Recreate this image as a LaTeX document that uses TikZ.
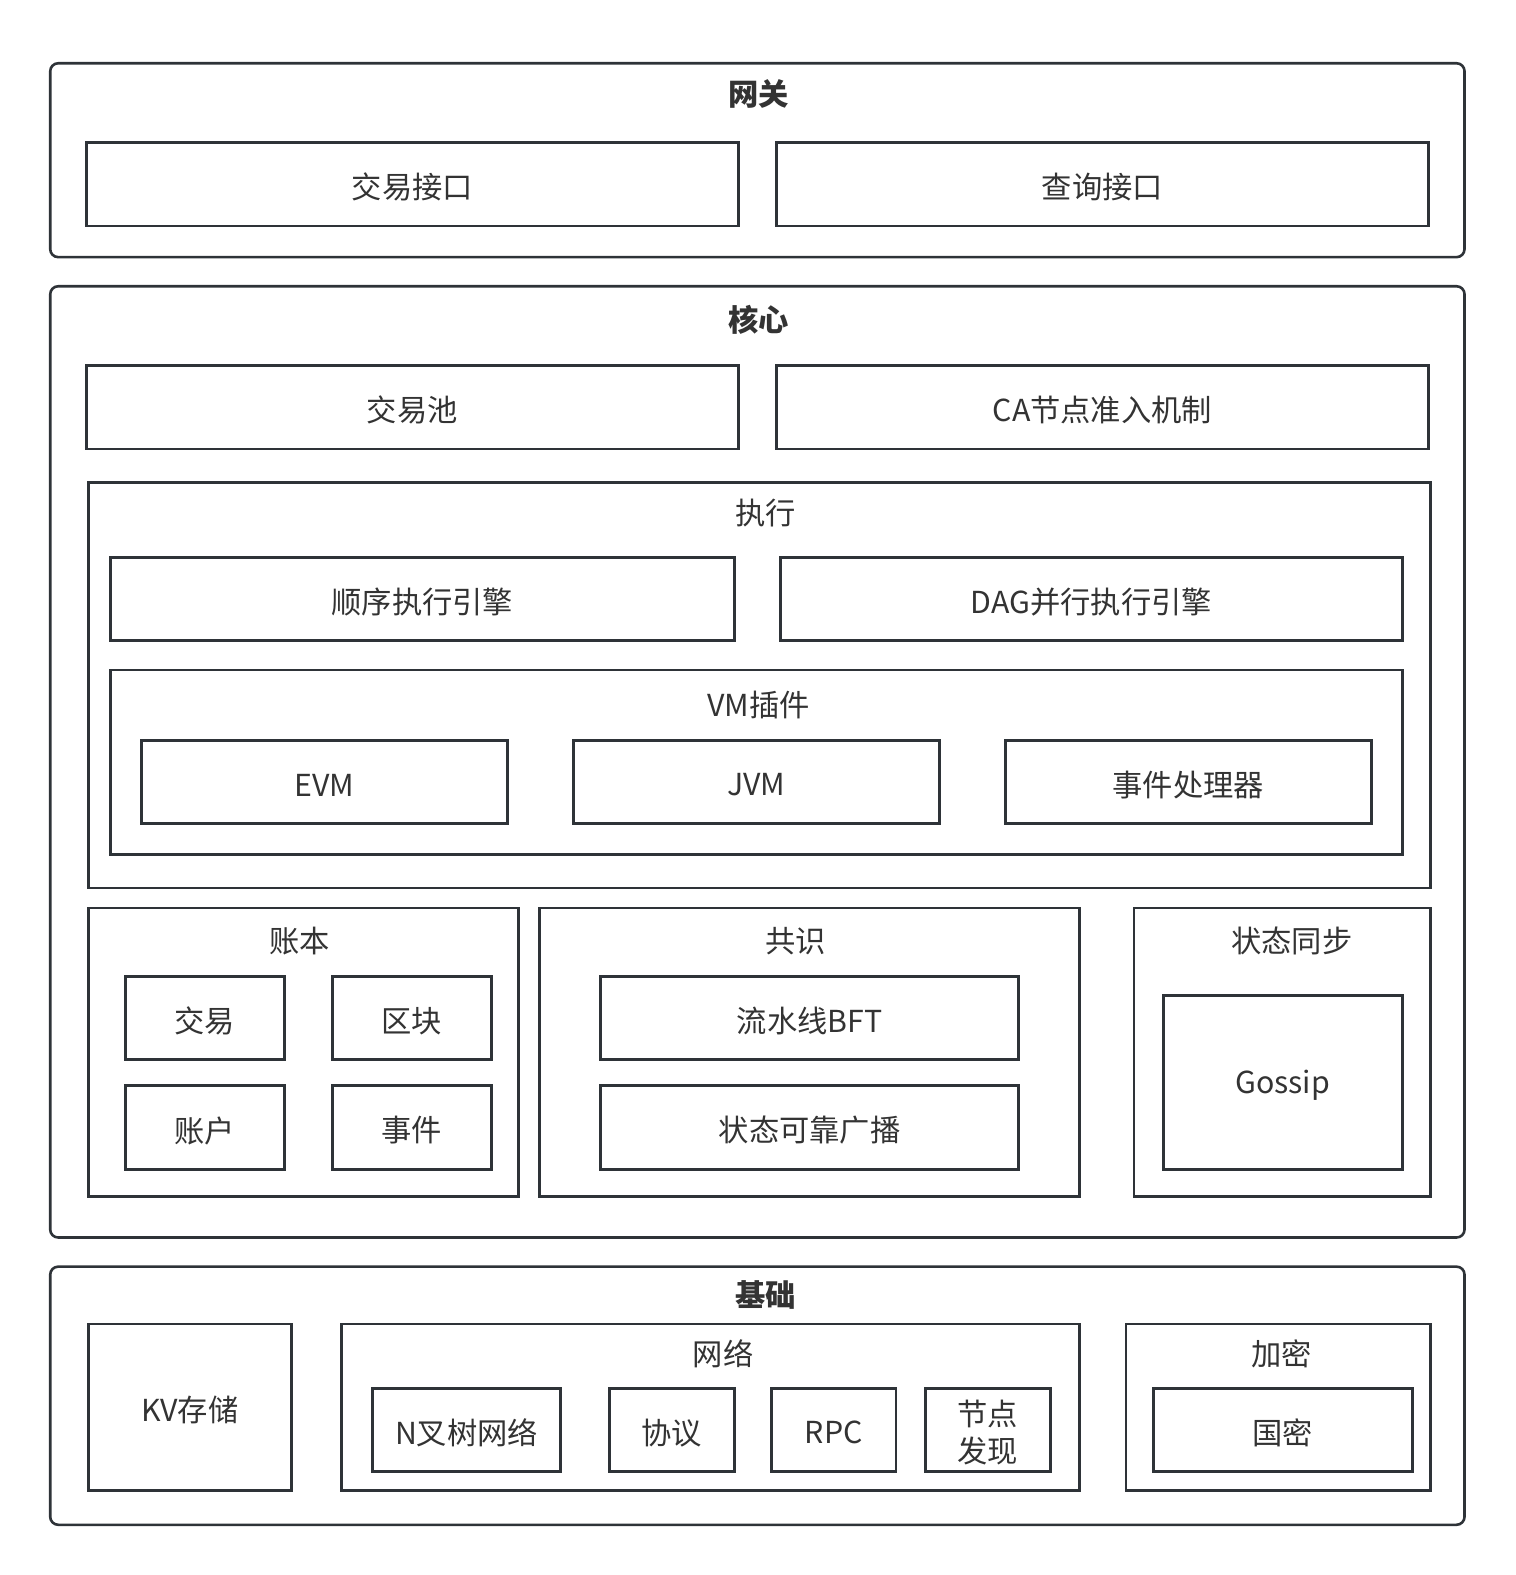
\documentclass[tikz,border=0pt]{standalone}
\usepackage{fontspec}
\setmainfont{Noto Sans CJK SC}
\usepackage{tikz}
\definecolor{linegray}{HTML}{2E3338}
\definecolor{textgray}{HTML}{333333}
\tikzset{layer/.style={draw=linegray,line width=1.3pt,rounded corners=4pt}}
\tikzset{box/.style={draw=linegray,line width=1.4pt}}
\tikzset{txt/.style={text=textgray,font=\fontsize{15.2}{18.5}\selectfont,align=center,yshift=-1.5pt}}
\tikzset{title/.style={text=textgray,font=\fontsize{15.2}{18.5}\selectfont\bfseries,yshift=-0.5pt}}

\begin{document}
\begin{tikzpicture}[x=0.50223bp,y=-0.50223bp]
        \useasboundingbox (0,0) rectangle (1508.3,1568);
        % gateway
        \draw[layer] (50,63) rectangle (1458,256);
        \node[title] (gw) at (755,93) {网关};
        \draw[box] (86,142) rectangle (735,225) node[midway,txt] (txif) {交易接口};
        \draw[box] (773,142) rectangle (1422,225) node[midway,txt] (qrif) {查询接口};
        % core
        \draw[layer] (50,285) rectangle (1458,1232);
        \node[title] (core) at (755,317) {核心};
        \draw[box] (86,364) rectangle (735,447) node[midway,txt] (txpool) {交易池};
        \draw[box] (773,364) rectangle (1422,447) node[midway,txt] (ca) {CA节点准入机制};
        \draw[box] (88,480) rectangle (1424,884);
        \node[txt] (exec) at (762,508) {执行};
        \draw[box] (110,555) rectangle (731,638) node[midway,txt] (seq) {顺序执行引擎};
        \draw[box] (777,555) rectangle (1396,638) node[midway,txt] (dag) {DAG并行执行引擎};
        \draw[box] (110,667) rectangle (1396,851);
        \node[txt] (vm) at (755,699) {VM插件};
        \draw[box] (141,737) rectangle (505,820) node[midway,txt] (evm) {EVM};
        \draw[box] (571,737) rectangle (935,820) node[midway,txt] (jvm) {JVM};
        \draw[box] (1001,737) rectangle (1365,820) node[midway,txt] (evt) {事件处理器};
        % ledger, consensus, sync
        \draw[box] (88,904) rectangle (516,1191);
        \node[txt] (ledger) at (298,934) {账本};
        \draw[box] (125,972) rectangle (283,1055) node[midway,txt] (tx) {交易};
        \draw[box] (331,972) rectangle (489,1055) node[midway,txt] (blk) {区块};
        \draw[box] (125,1081) rectangle (283,1164) node[midway,txt] (acct) {账户};
        \draw[box] (331,1081) rectangle (489,1164) node[midway,txt] (event) {事件};
        \draw[box] (537,904) rectangle (1075,1191);
        \node[txt] (cons) at (792,934) {共识};
        \draw[box] (598,972) rectangle (1014,1055) node[midway,txt] (bft) {流水线BFT};
        \draw[box] (598,1081) rectangle (1014,1164) node[midway,txt] (rbc) {状态可靠广播};
        \draw[box] (1129,904) rectangle (1424,1191);
        \node[txt] (sync) at (1286,934) {状态同步};
        \draw[box] (1158,991) rectangle (1396,1164) node[midway,txt] (gossip) {Gossip};
        % base
        \draw[layer] (50,1261) rectangle (1458,1518);
        \node[title] (base) at (762,1288) {基础};
        \draw[box] (88,1318) rectangle (290,1484) node[midway,txt] (kv) {KV存储};
        \draw[box] (340,1318) rectangle (1075,1484);
        \node[txt] (net) at (720,1345) {网络};
        \draw[box] (371,1382) rectangle (558,1465) node[midway,txt] (ntree) {N叉树网络};
        \draw[box] (607,1382) rectangle (731,1465) node[midway,txt] (proto) {协议};
        \draw[box] (768,1382) rectangle (892,1465) node[midway,txt] (rpc) {RPC};
        \draw[box] (921,1382) rectangle (1046,1465) node[midway,txt] (disc) {节点\\发现};
        \draw[box] (1121,1318) rectangle (1424,1484);
        \node[txt] (crypto) at (1276,1345) {加密};
        \draw[box] (1148,1382) rectangle (1406,1465) node[midway,txt] (sm) {国密};
\end{tikzpicture}
\end{document}
